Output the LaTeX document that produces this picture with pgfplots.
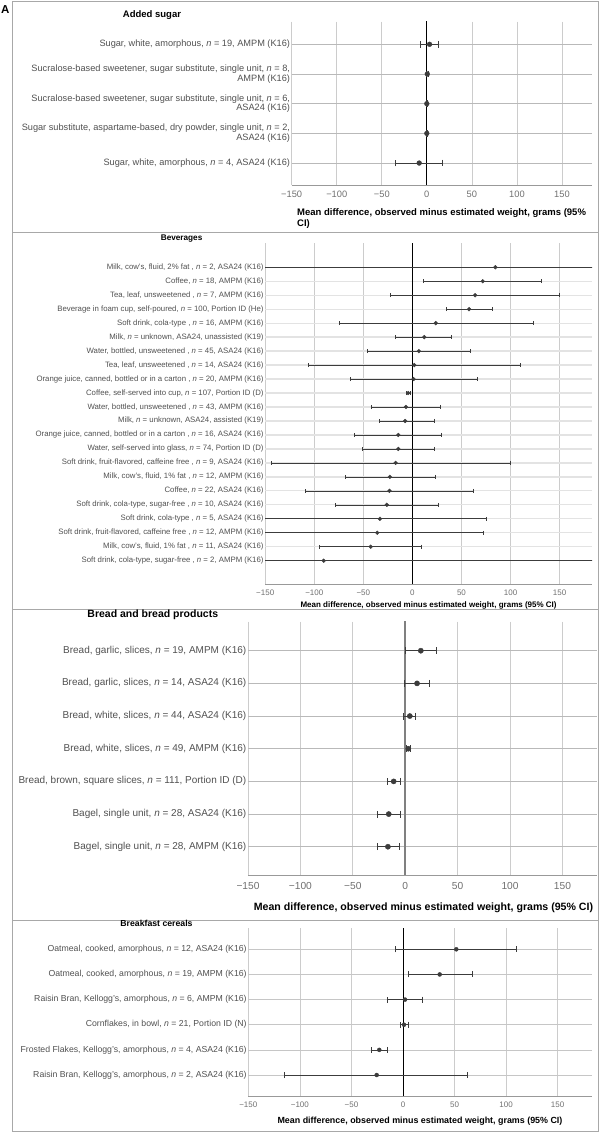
\documentclass[border=0pt]{standalone}
\usepackage{pgfplots}
\pgfplotsset{compat=1.18}
\usepackage{pgfplotstable}
\usepackage{fontspec}
\setmainfont{Liberation Sans}
\newcommand\fs[1]{\fontsize{#1}{#1}\selectfont}
\definecolor{labc}{HTML}{505050}
\definecolor{tickc}{HTML}{707070}
\definecolor{gridc}{HTML}{CCCCCC}
\definecolor{ptc}{HTML}{3C3C3C}
\definecolor{framec}{HTML}{A8A8A8}
\definecolor{axc}{HTML}{999999}

\pgfplotstableread{
y mean lo hi
1 3 -6.8 12.8
2 0.5 -0.5 1.2
3 0 -1 1
4 0 -1 1
5 -8.5 -34.4 17
}\sugar

\pgfplotstableread{
y mean lo hi
1 84.5 -160 200
2 71.7 11.3 131.7
3 63.9 -22.2 150
4 57.7 34.3 81.8
5 23.8 -74.8 122.7
6 12.1 -17.1 39.3
7 6.6 -45.6 58.8
8 1.9 -105.6 109.9
9 1.2 -63.5 65.8
10 -4.3 -5.8 -2.3
11 -6.6 -41.7 28.8
12 -7.4 -33.9 21.8
13 -14.4 -58.8 29.6
14 -14.4 -50.6 21.8
15 -17.1 -143.4 99.3
16 -23 -68.6 23.4
17 -23.4 -108.7 62.3
18 -26.1 -78.3 26.5
19 -33.1 -160 75.2
20 -35.8 -160 72.5
21 -42.5 -94.7 9.3
22 -90.4 -160 200
}\bev

\pgfplotstableread{
y mean lo hi
1 14.9 0 30.2
2 11.3 -0.7 23.4
3 4.4 -1.8 10.2
4 2.9 1.1 5.1
5 -11 -16.8 -4.4
6 -15.7 -26.7 -4.4
7 -16.5 -26.7 -5.9
}\bread

\pgfplotstableread{
y mean lo hi
1 51.7 -7.4 110.4
2 35.6 5 67
3 2 -15 19
4 1 -3 5
5 -23 -31 -15
6 -25.5 -115 62.5
}\cereal

\pgfplotsset{
  fp/.style={
    scale only axis, anchor=north west,
    xmin=-150, xmax=183, y dir=reverse,
    xtick={-150,-100,-50,0,50,100,150},
    xticklabels={−150,−100,−50,0,50,100,150},
    xmajorgrids, ymajorgrids,
    every axis x grid/.style={gridc, line width=0.7pt},
    axis line style={draw=none},
    major tick length=0pt,
    yticklabel style={color=labc, align=right, inner xsep=1.5pt},
    xticklabel style={color=tickc},
  },
  ebar/.style n args={4}{only marks, mark=*, mark size=#1, color=ptc,
    error bars/.cd, x dir=both, x explicit,
    error bar style={line width=#3, color=ptc},
    error mark options={rotate=90, line width=#3, mark size=#2, color=ptc}},
}

\begin{document}
\begin{tikzpicture}
\useasboundingbox (0,0) rectangle (600pt,-1133pt);
% frames
\draw[framec, line width=0.8pt] (12.5pt,-1pt) rectangle (598.5pt,-1131.5pt);
\draw[framec, line width=0.8pt] (12.5pt,-232.3pt) -- (598.5pt,-232.3pt);
\draw[framec, line width=0.8pt] (12.5pt,-609.3pt) -- (598.5pt,-609.3pt);
\draw[framec, line width=0.8pt] (12.5pt,-920pt) -- (598.5pt,-920pt);
\node[anchor=west, inner sep=0, font=\bfseries\fs{11.5}] at (1pt,-10pt) {A};

% ---------------- Panel 1: Added sugar
\node[font=\bfseries\fs{9.5}] at (152pt,-15pt) {Added sugar};
\begin{axis}[fp, at={(291.7pt,-21.7pt)}, width=300pt, height=163.6pt,
  ymin=0.239, ymax=5.75, ytick={1,2,3,4,5},
  every axis y grid/.style={color=gray!55, line width=0.7pt},
  yticklabel style={font=\fontsize{9.2}{9.6}\selectfont},
  xticklabel style={font=\fs{9.3}, yshift=-2.2pt},
  yticklabels={{Sugar, white, amorphous, \textit{n} = 19, AMPM (K16)},
    {Sucralose-based sweetener, sugar substitute, single unit, \textit{n} = 8,\\AMPM (K16)},
    {Sucralose-based sweetener, sugar substitute, single unit, \textit{n} = 6,\\ASA24 (K16)},
    {Sugar substitute, aspartame-based, dry powder, single unit, \textit{n} = 2,\\ASA24 (K16)},
    {Sugar, white, amorphous, \textit{n} = 4, ASA24 (K16)}}]
\addplot[black, line width=1pt, forget plot] coordinates {(0,-5) (0,30)};
\addplot[ebar={2.4pt}{3.3pt}{0.8pt}{}] table[x=mean, y=y,
  x error plus expr=\thisrow{hi}-\thisrow{mean},
  x error minus expr=\thisrow{mean}-\thisrow{lo}] {\sugar};
\end{axis}
\draw[axc, line width=0.8pt] (291.7pt,-185.3pt) -- (591.7pt,-185.3pt);
\node[anchor=north west, inner sep=0, align=left, font=\bfseries\fontsize{9.5}{10.2}\selectfont] at (297pt,-208.9pt)
  {Mean difference, observed minus estimated weight, grams (95\%\\CI)};

% ---------------- Panel 2: Beverages
\node[font=\bfseries\fs{8.2}] at (181.6pt,-239pt) {Beverages};
\begin{axis}[fp, at={(265.2pt,-243.3pt)}, width=326.8pt, height=341pt,
  ymin=-0.714, ymax=23.69, ytick={1,...,22},
  every axis y grid/.style={color=gray!22, line width=1.3pt},
  yticklabel style={font=\fs{7.8}},
  xticklabel style={font=\fs{8}, yshift=-2.2pt},
  yticklabels={{Milk, cow's, fluid, 2\% fat , \textit{n} = 2, ASA24 (K16)},
    {Coffee, \textit{n} = 18, AMPM (K16)},
    {Tea, leaf, unsweetened , \textit{n} = 7, AMPM (K16)},
    {Beverage in foam cup, self-poured, \textit{n} = 100, Portion ID (He)},
    {Soft drink, cola-type , \textit{n} = 16, AMPM (K16)},
    {Milk, \textit{n} = unknown, ASA24, unassisted (K19)},
    {Water, bottled, unsweetened , \textit{n} = 45, ASA24 (K16)},
    {Tea, leaf, unsweetened , \textit{n} = 14, ASA24 (K16)},
    {Orange juice, canned, bottled or in a carton , \textit{n} = 20, AMPM (K16)},
    {Coffee, self-served into cup, \textit{n} = 107, Portion ID (D)},
    {Water, bottled, unsweetened , \textit{n} = 43, AMPM (K16)},
    {Milk, \textit{n} = unknown, ASA24, assisted (K19)},
    {Orange juice, canned, bottled or in a carton , \textit{n} = 16, ASA24 (K16)},
    {Water, self-served into glass, \textit{n} = 74, Portion ID (D)},
    {Soft drink, fruit-flavored, caffeine free , \textit{n} = 9, ASA24 (K16)},
    {Milk, cow's, fluid, 1\% fat , \textit{n} = 12, AMPM (K16)},
    {Coffee, \textit{n} = 22, ASA24 (K16)},
    {Soft drink, cola-type, sugar-free , \textit{n} = 10, ASA24 (K16)},
    {Soft drink, cola-type , \textit{n} = 5, ASA24 (K16)},
    {Soft drink, fruit-flavored, caffeine free , \textit{n} = 12, AMPM (K16)},
    {Milk, cow's, fluid, 1\% fat , \textit{n} = 11, ASA24 (K16)},
    {Soft drink, cola-type, sugar-free , \textit{n} = 2, AMPM (K16)}}]
\addplot[black, line width=0.8pt, forget plot] coordinates {(0,-5) (0,30)};
\addplot[ebar={1.9pt}{2pt}{0.6pt}{}] table[x=mean, y=y,
  x error plus expr=\thisrow{hi}-\thisrow{mean},
  x error minus expr=\thisrow{mean}-\thisrow{lo}] {\bev};
\end{axis}
\draw[axc, line width=0.8pt] (265.2pt,-584.3pt) -- (592pt,-584.3pt);
\node[font=\bfseries\fs{8}] at (428.6pt,-605pt)
  {Mean difference, observed minus estimated weight, grams (95\% CI)};

% ---------------- Panel 3: Bread
\node[font=\bfseries\fs{10.5}] at (152.8pt,-614.5pt) {Bread and bread products};
\begin{axis}[fp, at={(248pt,-621.7pt)}, width=349pt, height=253.3pt,
  ymin=0.112, ymax=7.866, ytick={1,...,7},
  every axis y grid/.style={color=gray!55, line width=1pt},
  yticklabel style={font=\fs{10}},
  xticklabel style={font=\fs{10.2}, yshift=-3.9pt},
  yticklabels={{Bread, garlic, slices, \textit{n} = 19, AMPM (K16)},
    {Bread, garlic, slices, \textit{n} = 14, ASA24 (K16)},
    {Bread, white, slices, \textit{n} = 44, ASA24 (K16)},
    {Bread, white, slices, \textit{n} = 49, AMPM (K16)},
    {Bread, brown, square slices, \textit{n} = 111, Portion ID (D)},
    {Bagel, single unit, \textit{n} = 28, ASA24 (K16)},
    {Bagel, single unit, \textit{n} = 28, AMPM (K16)}}]
\addplot[gray, line width=1.6pt, forget plot] coordinates {(0,-5) (0,30)};
\addplot[ebar={2.6pt}{3.5pt}{0.9pt}{}] table[x=mean, y=y,
  x error plus expr=\thisrow{hi}-\thisrow{mean},
  x error minus expr=\thisrow{mean}-\thisrow{lo}] {\bread};
\end{axis}
\draw[axc, line width=0.8pt] (248pt,-875pt) -- (597pt,-875pt);
\node[font=\bfseries\fs{10.6}] at (423.5pt,-907.7pt)
  {Mean difference, observed minus estimated weight, grams (95\% CI)};

% ---------------- Panel 4: Breakfast cereals
\node[font=\bfseries\fs{8.7}] at (156.5pt,-923.8pt) {Breakfast cereals};
\begin{axis}[fp, at={(248.3pt,-928.3pt)}, width=343.4pt, height=167.7pt,
  ymin=0.165, ymax=6.835, ytick={1,...,6},
  every axis y grid/.style={color=gray!45, line width=0.7pt},
  yticklabel style={font=\fs{8.7}},
  xticklabel style={font=\fs{8}, yshift=-2pt},
  yticklabels={{Oatmeal, cooked, amorphous, \textit{n} = 12, ASA24 (K16)},
    {Oatmeal, cooked, amorphous, \textit{n} = 19, AMPM (K16)},
    {Raisin Bran, Kellogg's, amorphous, \textit{n} = 6, AMPM (K16)},
    {Cornflakes, in bowl, \textit{n} = 21, Portion ID (N)},
    {Frosted Flakes, Kellogg's, amorphous, \textit{n} = 4, ASA24 (K16)},
    {Raisin Bran, Kellogg's, amorphous, \textit{n} = 2, ASA24 (K16)}}]
\addplot[black, line width=0.9pt, forget plot] coordinates {(0,-5) (0,30)};
\addplot[ebar={2pt}{3pt}{0.7pt}{}] table[x=mean, y=y,
  x error plus expr=\thisrow{hi}-\thisrow{mean},
  x error minus expr=\thisrow{mean}-\thisrow{lo}] {\cereal};
\end{axis}
\draw[axc, line width=0.8pt] (248.3pt,-1096pt) -- (591.7pt,-1096pt);
\node[font=\bfseries\fs{8.9}] at (420pt,-1121.3pt)
  {Mean difference, observed minus estimated weight, grams (95\% CI)};
\end{tikzpicture}
\end{document}
